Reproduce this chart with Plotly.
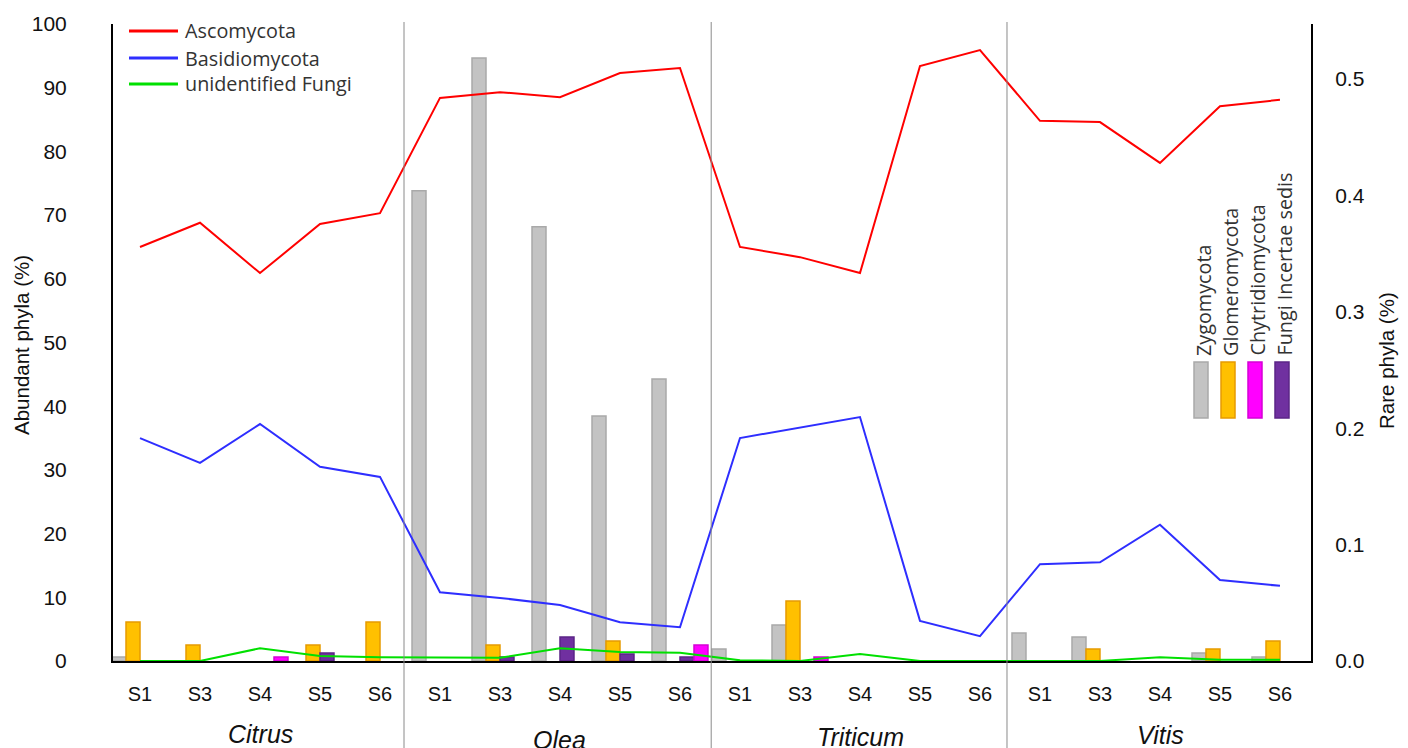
import plotly.graph_objects as go

# ---------------- data ----------------
hosts = ["Citrus", "Olea", "Triticum", "Vitis"]
samples = ["S1", "S3", "S4", "S5", "S6"]
tick_labels = samples * len(hosts)

# abundant phyla (%), left axis
ascomycota = [65.0, 68.8, 60.9, 68.6, 70.3,
              88.4, 89.3, 88.5, 92.3, 93.1,
              65.0, 63.4, 60.9, 93.4, 95.9,
              84.8, 84.6, 78.2, 87.1, 88.1]
basidiomycota = [35.0, 31.1, 37.2, 30.5, 28.9,
                 10.8, 9.9, 8.8, 6.1, 5.3,
                 35.0, 36.7, 38.3, 6.3, 3.9,
                 15.2, 15.5, 21.4, 12.7, 11.8]
unidentified_fungi = [0.0, 0.0, 2.0, 0.8, 0.6,
                      0.5, 0.5, 2.0, 1.4, 1.3,
                      0.1, 0.0, 1.1, 0.0, 0.0,
                      0.0, 0.0, 0.6, 0.2, 0.2]

# rare phyla (%), right axis
zygomycota = [0.0034, 0, 0, 0, 0,
              0.404, 0.518, 0.373, 0.2105, 0.2423,
              0.0103, 0.031, 0, 0, 0,
              0.024, 0.0206, 0, 0.0069, 0.0034]
glomeromycota = [0.0335, 0.0137, 0, 0.0137, 0.0335,
                 0, 0.0137, 0, 0.0172, 0,
                 0, 0.0515, 0, 0, 0,
                 0, 0.0103, 0, 0.0103, 0.0172]
chytridiomycota = [0, 0, 0.0034, 0, 0,
                   0, 0, 0, 0, 0.0137,
                   0, 0.0034, 0, 0, 0,
                   0, 0, 0, 0, 0]
incertae_sedis = [0, 0, 0, 0.0069, 0,
                  0, 0.0034, 0.0206, 0.006, 0.0034,
                  0, 0, 0, 0, 0,
                  0, 0, 0, 0, 0]

left_ticks = list(range(0, 101, 10))
right_ticks = [0.0, 0.1, 0.2, 0.3, 0.4, 0.5]
right_tick_text = ["0.0", "0.1", "0.2", "0.3", "0.4", "0.5"]

# ---------------- layout geometry ----------------
W, H = 1408, 748
L, R, T, B = 113, 97, 24, 87
PW, PH = W - L - R, H - T - B


def px(xp):
    return (xp - L) / PW


def py(yp):
    return 1 - (yp - T) / PH


xpos = list(range(len(tick_labels)))
FONT = "Liberation Sans, Arial, sans-serif"
LEGF = "Open Sans, sans-serif"

fig = go.Figure()

bar_series = [
    ("Zygomycota", zygomycota, "#c3c3c3", "#a9a9a9"),
    ("Glomeromycota", glomeromycota, "#ffc000", "#e69a00"),
    ("Fungi Incertae sedis", incertae_sedis, "#7030a0", "#5b2487"),
    ("Chytridiomycota", chytridiomycota, "#ff00ff", "#d600d6"),
]
for name, vals, fc, lc in bar_series:
    fig.add_trace(go.Bar(
        x=xpos, y=[v if v > 0 else None for v in vals], name=name,
        marker=dict(color=fc, line=dict(color=lc, width=1.5)),
        yaxis="y", showlegend=False))

line_series = [
    ("Ascomycota", ascomycota, "#ff0000"),
    ("Basidiomycota", basidiomycota, "#2e2eff"),
    ("unidentified Fungi", unidentified_fungi, "#00e000"),
]
for name, vals, col in line_series:
    fig.add_trace(go.Scatter(
        x=xpos, y=vals, name=name, mode="lines",
        line=dict(color=col, width=2), yaxis="y2", showlegend=False))

shapes = []
annotations = []

# group separators
for sx in [4.4, 9.52, 14.45]:
    shapes.append(dict(type="line", xref="x", yref="paper", x0=sx, x1=sx,
                       y0=py(748), y1=py(22),
                       line=dict(color="#8a8a8a", width=1)))

# host labels
for name, cx, cy in zip(hosts, [260, 559, 861, 1160], [734, 740, 737, 735]):
    annotations.append(dict(text="<i>%s</i>" % name, xref="paper", yref="paper",
                            x=px(cx), y=py(cy), xanchor="center", yanchor="middle",
                            showarrow=False, font=dict(family=FONT, size=25, color="#111")))

# line legend
for (name, vals, col), yl in zip(line_series, [31, 58, 84]):
    shapes.append(dict(type="line", xref="paper", yref="paper",
                       x0=px(129), x1=px(178), y0=py(yl), y1=py(yl),
                       line=dict(color=col, width=3)))
    annotations.append(dict(text=name, xref="paper", yref="paper",
                            x=px(183), y=py(yl), xanchor="left", yanchor="middle",
                            showarrow=False, font=dict(family=LEGF, size=19.8, color="#333")))

# bar legend (vertical)
bar_legend = [("Zygomycota", "#c3c3c3", "#a9a9a9", 1201),
              ("Glomeromycota", "#ffc000", "#e69a00", 1228),
              ("Chytridiomycota", "#ff00ff", "#d600d6", 1255),
              ("Fungi Incertae sedis", "#7030a0", "#5b2487", 1282)]
for name, fc, lc, cx in bar_legend:
    shapes.append(dict(type="rect", xref="paper", yref="paper",
                       x0=px(cx - 7), x1=px(cx + 7), y0=py(418), y1=py(362),
                       fillcolor=fc, line=dict(color=lc, width=1.5)))
    annotations.append(dict(text=name, xref="paper", yref="paper",
                            x=px(cx + 2), y=py(358), xanchor="center", yanchor="bottom",
                            textangle=-90, showarrow=False,
                            font=dict(family=LEGF, size=19.8, color="#333")))

# axis titles
annotations.append(dict(text="Abundant phyla (%)", xref="paper", yref="paper",
                        x=px(21), y=py(345), xanchor="center", yanchor="middle",
                        textangle=-90, showarrow=False,
                        font=dict(family=FONT, size=20.5, color="#111")))
annotations.append(dict(text="Rare phyla (%)", xref="paper", yref="paper",
                        x=px(1386), y=py(361), xanchor="center", yanchor="middle",
                        textangle=-90, showarrow=False,
                        font=dict(family=FONT, size=20.5, color="#111")))

fig.update_layout(
    width=W, height=H, autosize=False,
    margin=dict(l=L, r=R, t=T, b=B, pad=0),
    paper_bgcolor="white", plot_bgcolor="white",
    barmode="group", bargap=0.067, bargroupgap=0,
    showlegend=False,
    xaxis=dict(range=[-0.45, 19.517], tickvals=xpos, ticktext=tick_labels,
               showline=True, linecolor="black", linewidth=2,
               ticks="outside", ticklen=14, tickcolor="rgba(0,0,0,0)",
               showgrid=False, zeroline=False,
               tickfont=dict(family=FONT, size=20, color="#111")),
    yaxis=dict(side="right", range=[0, 0.5472], tickvals=right_ticks,
               ticktext=right_tick_text, showline=True, linecolor="black",
               linewidth=2, ticks="outside", ticklen=18, tickcolor="rgba(0,0,0,0)",
               showgrid=False, zeroline=False,
               tickfont=dict(family=FONT, size=21, color="#111")),
    yaxis2=dict(side="left", overlaying="y", range=[0, 100], tickvals=left_ticks,
                showline=True, linecolor="black", linewidth=2,
                ticks="outside", ticklen=40, tickcolor="rgba(0,0,0,0)",
                showgrid=False, zeroline=False,
                tickfont=dict(family=FONT, size=21, color="#111")),
    shapes=shapes, annotations=annotations,
)

fig.write_html("out.html")
